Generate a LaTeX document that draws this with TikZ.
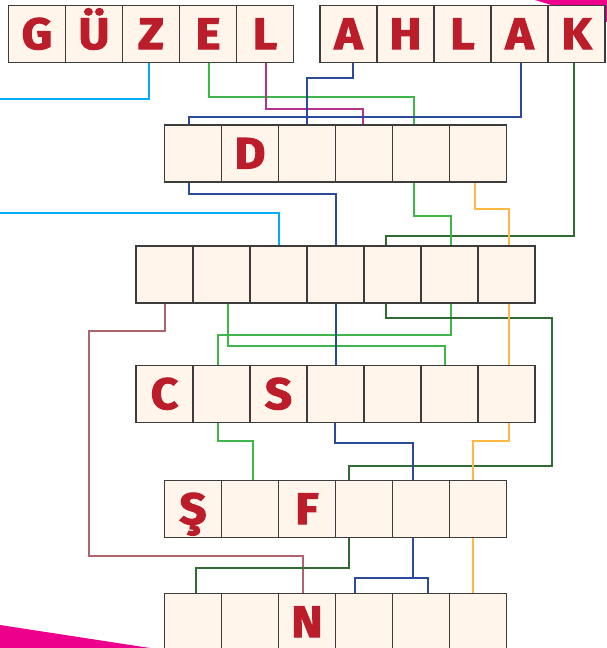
\documentclass[tikz,border=0pt]{standalone}
\usepackage{fontspec}
\newfontfamily\letterfont{Fira Sans}[BoldFeatures={FakeBold=2.4,FakeStretch=1.08}]
\usepackage{tikz}
\usetikzlibrary{calc}

\definecolor{cellfill}{HTML}{FFF5EA}
\definecolor{cellline}{HTML}{3C3C3C}
\definecolor{letterred}{HTML}{BB1E2A}
\definecolor{cornerpink}{HTML}{EC008C}
\definecolor{skyline}{HTML}{00AEEF}
\definecolor{grass}{HTML}{3FB54B}
\definecolor{plum}{HTML}{B4338C}
\definecolor{navy}{HTML}{2B4A9A}
\definecolor{forest}{HTML}{2F6B33}
\definecolor{amber}{HTML}{FDB845}
\definecolor{rosewood}{HTML}{B0636F}

\begin{document}
\begin{tikzpicture}[
    x=1pt, y=-1pt,
    cell/.style={rectangle, draw=cellline, fill=cellfill, line width=1.2pt, minimum size=57pt, inner sep=0pt,
        text height=30pt, text depth=0pt, text=letterred, font=\letterfont\bfseries\fontsize{44}{44}\selectfont},
    link/.style={line width=2pt}
]
\useasboundingbox (0,0) rectangle (607,648);

% Corners
\fill[cornerpink] (535,0) -- (607,0) -- (607,22) -- cycle;
\fill[cornerpink] (0,625) -- (150,648) -- (0,648) -- cycle;

% Words
\foreach \ch [count=\i] in {G,Ü,Z,E,L}
    \node[cell] (gu-\i) at (8.5+57*\i-28.5, 34) {\ch};
\foreach \ch [count=\i] in {A,H,L,A,K}
    \node[cell] (ah-\i) at (320+57*\i-28.5, 34) {\ch};

% Rows
\foreach \ch [count=\i] in {{},D,{},{},{},{}}
    \node[cell] (ra-\i) at (164.5+57*\i-28.5, 153.5) {\ch};
\foreach \ch [count=\i] in {{},{},{},{},{},{},{}}
    \node[cell] (rb-\i) at (136+57*\i-28.5, 274.5) {\ch};
\foreach \ch [count=\i] in {C,{},S,{},{},{},{}}
    \node[cell] (rc-\i) at (136+57*\i-28.5, 394) {\ch};
\foreach \ch [count=\i] in {Ş,{},F,{},{},{}}
    \node[cell] (rd-\i) at (164.5+57*\i-28.5, 509) {\ch};
\foreach \ch [count=\i] in {{},{},N,{},{},{}}
    \node[cell] (re-\i) at (164.5+57*\i-28.5, 622) {\ch};

% Free ends at the left edge
\coordinate (skyout) at (0, 99);
\coordinate (skyin) at (0, 213);

% Words -> first row
\draw[link, skyline] ($(gu-3.south)+(-2,0)$) |- (skyout);
\draw[link, skyline] (skyin) -| (rb-3.north);
\draw[link, grass] ($(gu-4.south)+(1,0)$) -- ++(0,33.5) -| ($(ra-5.north)+(-7,0)$);
\draw[link, plum] ($(gu-5.south)+(1,0)$) -- ++(0,46) -| ($(ra-4.north)+(-1.5,0)$);
\draw[link, navy] ($(ah-1.south)+(4,0)$) -- ++(0,15) -| (ra-3.north);
\draw[link, navy] ($(ah-4.south)+(1,0)$) -- ++(0,54) -| ($(ra-1.north)+(-4.5,0)$);
\draw[link, forest] ($(ah-5.south)+(-3,0)$) -- ++(0,172.5) -| ($(rb-5.north)+(-6.5,0)$);

% Row a -> row b
\draw[link, navy] ($(ra-1.south)+(-4.5,0)$) -- ++(0,11) -| (rb-4.north);
\draw[link, grass] ($(ra-5.south)+(-7,0)$) -- ++(0,33) -| ($(rb-6.north)+(1.5,0)$);
\draw[link, amber] ($(ra-6.south)+(-3,0)$) -- ++(0,26) -| ($(rb-7.north)+(2.5,0)$);

% Row b -> row c (and further)
\draw[link, rosewood] (rb-1.south) -- ++(0,27) -| (88.5,556) -| ($(re-3.north)+(-4,0)$);
\draw[link, grass] ($(rb-2.south)+(6.5,0)$) -- ++(0,42.5) -| ($(rc-6.north)+(-4.5,0)$);
\draw[link, grass] ($(rb-6.south)+(1.5,0)$) -- ++(0,31.5) -| ($(rc-2.north)+(-3.5,0)$);
\draw[link, navy] (rb-4.south) -- (rc-4.north);
\draw[link, forest] ($(rb-5.south)+(-6.5,0)$) -- ++(0,14) -| (551.5,465.5) -| ($(rd-4.north)+(-15,0)$);
\draw[link, amber] ($(rb-7.south)+(2.5,0)$) -- ($(rc-7.north)+(2.5,0)$);

% Row c -> row d
\draw[link, grass] ($(rc-2.south)+(-3.5,0)$) -- ++(0,17.5) -| ($(rd-2.north)+(2.5,0)$);
\draw[link, navy] ($(rc-4.south)+(-0.5,0)$) -- ++(0,19.5) -| ($(rd-5.north)+(-8,0)$);
\draw[link, amber] ($(rc-7.south)+(2.5,0)$) -- ++(0,17.5) -| ($(rd-6.north)+(-5,0)$);

% Row d -> row e
\draw[link, forest] ($(rd-4.south)+(-15,0)$) -- ++(0,30) -| ($(re-1.north)+(2.5,0)$);
\draw[link, navy] ($(rd-5.south)+(-8,0)$) -- ++(0,40) coordinate (fork) -| ($(re-4.north)+(-9,0)$)
    (fork) -| ($(re-5.north)+(7,0)$);
\draw[link, amber] ($(rd-6.south)+(-5,0)$) -- ($(re-6.north)+(-5,0)$);

\end{tikzpicture}
\end{document}
